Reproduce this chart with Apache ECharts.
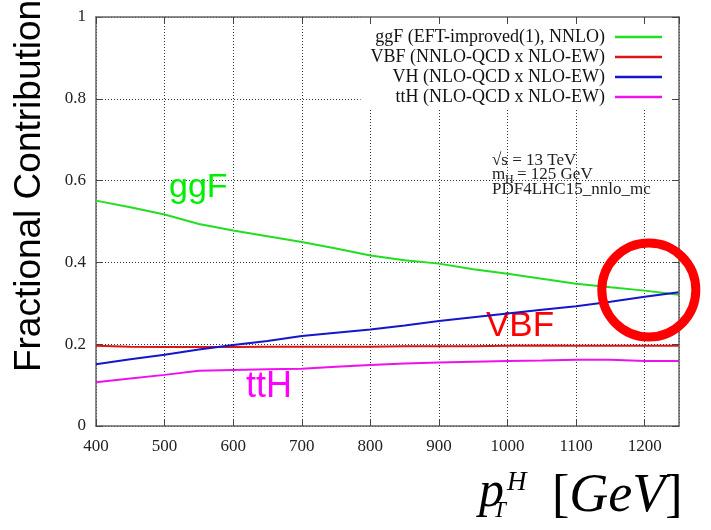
<!DOCTYPE html>
<html>
<head>
<meta charset="utf-8">
<script src="https://cdn.jsdelivr.net/npm/echarts@6/dist/echarts.min.js"></script>
<style>
html,body{margin:0;padding:0;background:#fff;}
#chart{width:711px;height:530px;}
</style>
</head>
<body>
<div id="chart"></div>
<script>
// pT^H values (GeV)
const ptH = [400, 450, 500, 550, 600, 650, 700, 750, 800, 850, 900, 950, 1000, 1050, 1100, 1150, 1200, 1250];
const ggF = [0.551, 0.535, 0.517, 0.494, 0.478, 0.464, 0.450, 0.434, 0.417, 0.405, 0.397, 0.383, 0.372, 0.360, 0.348, 0.339, 0.331, 0.321];
const VBF = [0.196, 0.194, 0.193, 0.193, 0.193, 0.194, 0.194, 0.194, 0.194, 0.195, 0.195, 0.195, 0.196, 0.197, 0.196, 0.196, 0.196, 0.196];
const VH  = [0.151, 0.163, 0.174, 0.187, 0.198, 0.208, 0.220, 0.228, 0.236, 0.246, 0.257, 0.266, 0.275, 0.284, 0.293, 0.304, 0.316, 0.327];
const ttH = [0.107, 0.116, 0.125, 0.135, 0.137, 0.139, 0.140, 0.145, 0.149, 0.153, 0.155, 0.157, 0.159, 0.160, 0.162, 0.162, 0.159, 0.159];
const seriesNames = ['ggF (EFT-improved(1), NNLO)', 'VBF (NNLO-QCD x NLO-EW)', 'VH (NLO-QCD x NLO-EW)', 'ttH (NLO-QCD x NLO-EW)'];
const seriesColors = ['#22dd22', '#dd1515', '#1515cc', '#ee11ee'];
const xTicks = [400, 500, 600, 700, 800, 900, 1000, 1100, 1200];
const yTicks = ['0', '0.2', '0.4', '0.6', '0.8', '1'];

const serif = '"Liberation Serif", "Times New Roman", serif';
const sans = '"Liberation Sans", Arial, sans-serif';

const chart = echarts.init(document.getElementById('chart'));
const pair = (ys) => ptH.map((x, i) => [x, ys[i]]);
const allY = [ggF, VBF, VH, ttH];

const gridLine = { show: true, lineStyle: { type: [1, 2], color: '#333', width: 1 } };
const borderLine = { show: true, onZero: false, lineStyle: { color: '#666', width: 1.5 } };
const tick = { show: true, inside: true, length: 7, lineStyle: { color: '#444', width: 1 } };

chart.setOption({
  backgroundColor: '#fff',
  animation: false,
  grid: { left: 96, top: 17, right: 32, bottom: 104, containLabel: false },
  xAxis: [{
    type: 'value', min: 400, max: 1250, interval: 100, position: 'bottom',
    axisLine: borderLine, axisTick: tick, splitLine: gridLine,
    axisLabel: {
      show: true, margin: 12, fontFamily: serif, fontSize: 17, color: '#222',
      showMaxLabel: false,
      formatter: (v) => xTicks.indexOf(v) >= 0 ? String(v) : ''
    }
  }, {
    type: 'value', min: 400, max: 1250, interval: 100, position: 'top', z: 10,
    axisLine: borderLine, axisTick: tick, splitLine: { show: false }, axisLabel: { show: false }
  }],
  yAxis: [{
    type: 'value', min: 0, max: 1, interval: 0.2, position: 'left',
    axisLine: borderLine, axisTick: tick, splitLine: gridLine,
    axisLabel: {
      margin: 10, fontFamily: serif, fontSize: 17, color: '#222',
      formatter: (v) => yTicks[Math.round(v / 0.2)]
    }
  }, {
    type: 'value', min: 0, max: 1, interval: 0.2, position: 'right', z: 10,
    axisLine: borderLine, axisTick: tick, splitLine: { show: false }, axisLabel: { show: false }
  }],
  legend: {
    orient: 'vertical', right: 32, top: 17, align: 'right',
    padding: [10, 17, 2, 10], backgroundColor: '#fff',
    icon: 'rect', itemWidth: 47, itemHeight: 2.5, itemGap: 0,
    textStyle: { fontFamily: serif, fontSize: 18, color: '#111', lineHeight: 20, padding: [0, 5, 0, 0] },
    data: seriesNames
  },
  series: seriesNames.map((n, i) => ({
    name: n, type: 'line', data: pair(allY[i]), showSymbol: false, symbol: 'none',
    lineStyle: { color: seriesColors[i], width: 2 }, itemStyle: { color: seriesColors[i] },
    z: 2
  }))
});

function pt(x, y) { return chart.convertToPixel({ xAxisIndex: 0, yAxisIndex: 0 }, [x, y]); }
const circ = pt(1206, 0.3325);

chart.setOption({
  graphic: [
    { type: 'text', x: 30, y: 186, rotation: Math.PI / 2,
      style: { text: 'Fractional Contribution', font: '37px ' + sans, fill: '#000', align: 'center', verticalAlign: 'middle' } },
    // x-axis title p_T^H [GeV]
    { type: 'text', x: 479, y: 493, style: { text: 'p', font: 'italic 50px ' + serif, fill: '#000', align: 'left', verticalAlign: 'middle' } },
    { type: 'text', x: 507, y: 483, style: { text: 'H', font: 'italic 27px ' + serif, fill: '#000', align: 'left', verticalAlign: 'middle' } },
    { type: 'text', x: 493, y: 511, style: { text: 'T', font: 'italic 23px ' + serif, fill: '#000', align: 'left', verticalAlign: 'middle' } },
    { type: 'text', x: 552, y: 497, style: {
        text: '{b|[}{i|GeV}{b|]}', align: 'left', verticalAlign: 'middle',
        rich: { b: { font: '52px ' + serif, fill: '#000' }, i: { font: 'italic 54px ' + serif, fill: '#000' } } } },
    // annotation
    { type: 'text', x: 492, y: 161, style: { text: '√s = 13 TeV', font: '17px ' + serif, fill: '#222', align: 'left', verticalAlign: 'middle' } },
    { type: 'text', x: 492, y: 175, style: { text: 'm', font: '17px ' + serif, fill: '#222', align: 'left', verticalAlign: 'middle' } },
    { type: 'text', x: 505, y: 180, style: { text: 'H', font: '12px ' + serif, fill: '#222', align: 'left', verticalAlign: 'middle' } },
    { type: 'text', x: 517, y: 175, style: { text: '= 125 GeV', font: '17px ' + serif, fill: '#222', align: 'left', verticalAlign: 'middle' } },
    { type: 'text', x: 492, y: 190, style: { text: 'PDF4LHC15_nnlo_mc', font: '17px ' + serif, fill: '#222', align: 'left', verticalAlign: 'middle' } },
    // coloured labels
    { type: 'text', x: 169, y: 188, style: { text: 'ggF', font: '34px ' + sans, fill: '#00ee00', align: 'left', verticalAlign: 'middle' } },
    { type: 'text', x: 486, y: 326, style: { text: 'VBF', font: '35px ' + sans, fill: '#ff0000', align: 'left', verticalAlign: 'middle' } },
    { type: 'text', x: 246, y: 387, style: { text: 'ttH', font: '36px ' + sans, fill: '#ff00ff', align: 'left', verticalAlign: 'middle' } },
    // red circle
    { type: 'circle', z: 20, shape: { cx: circ[0], cy: circ[1], r: 47 }, style: { fill: 'none', stroke: '#ff0000', lineWidth: 9 } }
  ]
});
</script>
</body>
</html>
